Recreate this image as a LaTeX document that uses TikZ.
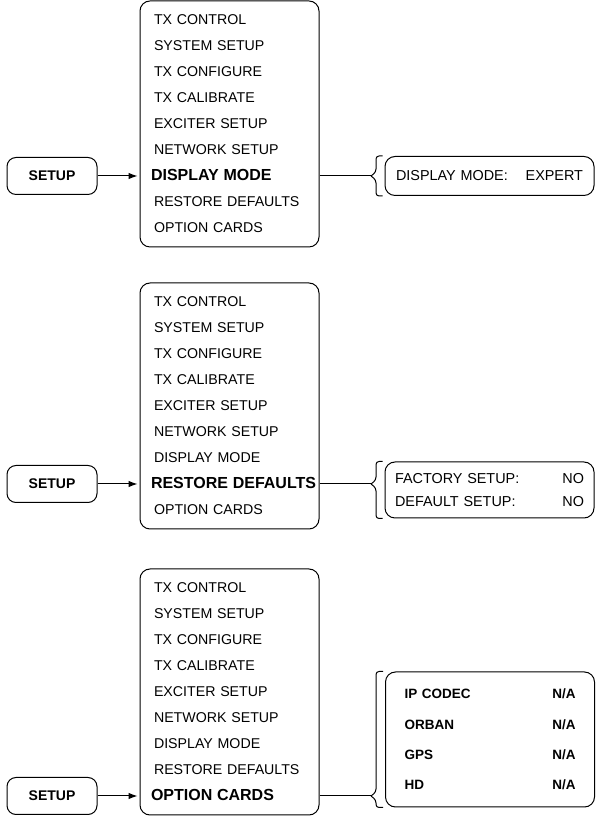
\documentclass[tikz,border=0pt]{standalone}
\usepackage{fontspec}
\setmainfont{Liberation Sans}
\usetikzlibrary{shapes,arrows,arrows.meta}
\tikzstyle{setupbox} = [rectangle, draw, line width=1pt, rounded corners=9pt,
    minimum width=90pt, minimum height=37pt, font=\fontsize{14}{16}\selectfont\bfseries]
\tikzstyle{menu} = [rectangle, draw, line width=1pt, rounded corners=10pt, minimum width=179pt,
    minimum height=246pt, text width=151pt, inner xsep=14pt, align=left,
    font=\fontsize{14.2}{26}\selectfont]
\tikzstyle{result} = [rectangle, draw, line width=1pt, rounded corners=10pt, minimum width=209pt,
    text width=187pt, inner xsep=11pt, align=left, font=\fontsize{14.4}{23}\selectfont]
\tikzstyle{brace} = [draw, line width=1pt, rounded corners=3pt]
\tikzstyle{arrow} = [draw, line width=1pt, -{Latex[length=9pt,width=6.5pt]}, shorten >=2pt]
\newcommand{\hl}[1]{\makebox[0pt][l]{\hspace*{-3pt}\fontsize{16}{26}\selectfont\bfseries #1}}

\begin{document}
\begin{tikzpicture}[x=1pt, y=1pt]
    \useasboundingbox (0,0) rectangle (603,821);

    % display mode
    \node[menu] (menu1) at (229.5,697) {TX CONTROL\\SYSTEM SETUP\\TX CONFIGURE\\TX CALIBRATE\\EXCITER SETUP\\NETWORK SETUP\\\hl{DISPLAY MODE}\\RESTORE DEFAULTS\\OPTION CARDS};
    \node[setupbox] (setup1) at (52,645) {SETUP};
    \node[result, minimum height=39pt] (res1) at (489.5,645) {DISPLAY MODE:\hfill EXPERT};
    \coordinate (tip1) at (371,645);

    \path [arrow] (setup1) -- (setup1 -| menu1.west);
    \draw[line width=1pt] (menu1.east |- setup1) -- (tip1);
    \path [brace] (tip1) -- ++(5,4) |- ([xshift=-2pt]res1.north west);
    \path [brace] (tip1) -- ++(5,-4) |- ([xshift=-2pt]res1.south west);

    % restore defaults
    \node[menu] (menu2) at (229.5,415) {TX CONTROL\\SYSTEM SETUP\\TX CONFIGURE\\TX CALIBRATE\\EXCITER SETUP\\NETWORK SETUP\\DISPLAY MODE\\\hl{RESTORE DEFAULTS}\\OPTION CARDS};
    \node[setupbox] (setup2) at (52,337) {SETUP};
    \node[result, minimum height=56pt, text width=189pt, inner xsep=10pt] (res2) at (489.5,331) {FACTORY SETUP:\hfill NO\\DEFAULT SETUP:\hfill NO};
    \coordinate (tip2) at (371,337);

    \path [arrow] (setup2) -- (setup2 -| menu2.west);
    \draw[line width=1pt] (menu2.east |- setup2) -- (tip2);
    \path [brace] (tip2) -- ++(5,4) |- ([xshift=-2pt]res2.north west);
    \path [brace] (tip2) -- ++(5,-4) |- ([xshift=-2pt]res2.south west);

    % option cards
    \node[menu] (menu3) at (229.5,129) {TX CONTROL\\SYSTEM SETUP\\TX CONFIGURE\\TX CALIBRATE\\EXCITER SETUP\\NETWORK SETUP\\DISPLAY MODE\\RESTORE DEFAULTS\\\hl{OPTION CARDS}};
    \node[setupbox] (setup3) at (52,25) {SETUP};
    \node[result, minimum height=135pt, text width=171pt, inner xsep=19pt,
        font=\fontsize{13.5}{30.3}\selectfont\bfseries] (res3) at (490,81.5)
        {IP CODEC\hfill N/A\\ORBAN\hfill N/A\\GPS\hfill N/A\\HD\hfill N/A};
    \coordinate (tip3) at (371,25);

    \path [arrow] (setup3) -- (setup3 -| menu3.west);
    \draw[line width=1pt] (menu3.east |- setup3) -- (tip3);
    \path [brace] (tip3) -- ++(5,4) |- ([xshift=-2pt]res3.north west);
    \path [brace] (tip3) -- ++(5,-4) |- ([xshift=-2pt]res3.south west);
\end{tikzpicture}
\end{document}
